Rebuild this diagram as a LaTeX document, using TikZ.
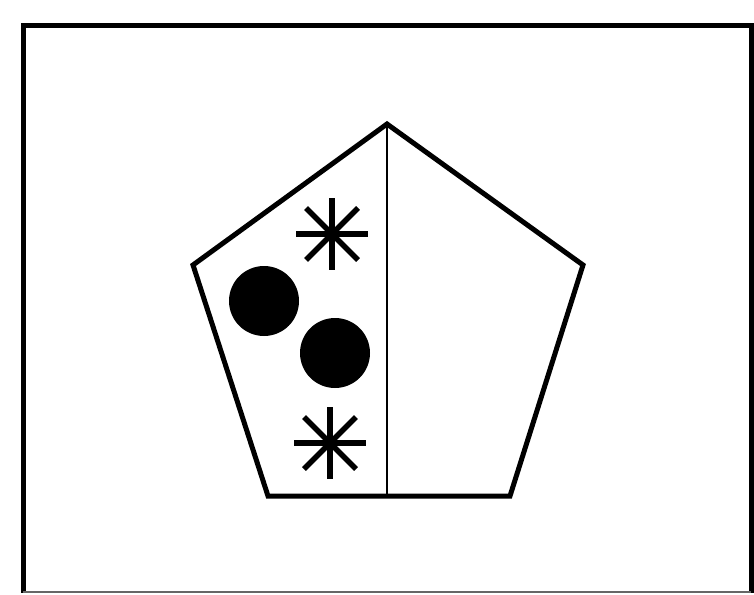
\documentclass[tikz,border=0pt]{standalone}
\begin{document}
\begin{tikzpicture}[x=1pt,y=-1pt,
  frameline/.style={line width=5pt},
  thickline/.style={line width=5pt,line join=miter},
  thinline/.style={line width=2pt},
  dot/.style={fill=black},
  starline/.style={line width=5.5pt}]
\useasboundingbox (0,0) rectangle (754,594);
% outer frame
\draw[frameline] (751,593) -- (751,26) -- (23,26) -- (23,593);
\draw[line width=1.5pt,black!60] (23,592) -- (751,592);
% pentagon
\coordinate (T) at (387,124);
\coordinate (L) at (193,265);
\coordinate (R) at (583,265);
\coordinate (BL) at (268,496);
\coordinate (BR) at (510,496);
\coordinate (BM) at (387,496);
\draw[thickline] (T) -- (R) -- (BR) -- (BL) -- (L) -- cycle;
\draw[thinline] (T) -- (BM);
% circles
\fill[dot] (264,301) circle (35);
\fill[dot] (335,353) circle (35);
% asterisks
\foreach \cx/\cy in {332/234, 330/443}{
  \draw[starline] (\cx,\cy-36) -- (\cx,\cy+36);
  \draw[starline] (\cx-36,\cy) -- (\cx+36,\cy);
  \draw[starline] (\cx-26,\cy-26) -- (\cx+26,\cy+26);
  \draw[starline] (\cx-26,\cy+26) -- (\cx+26,\cy-26);
}
\end{tikzpicture}
\end{document}
